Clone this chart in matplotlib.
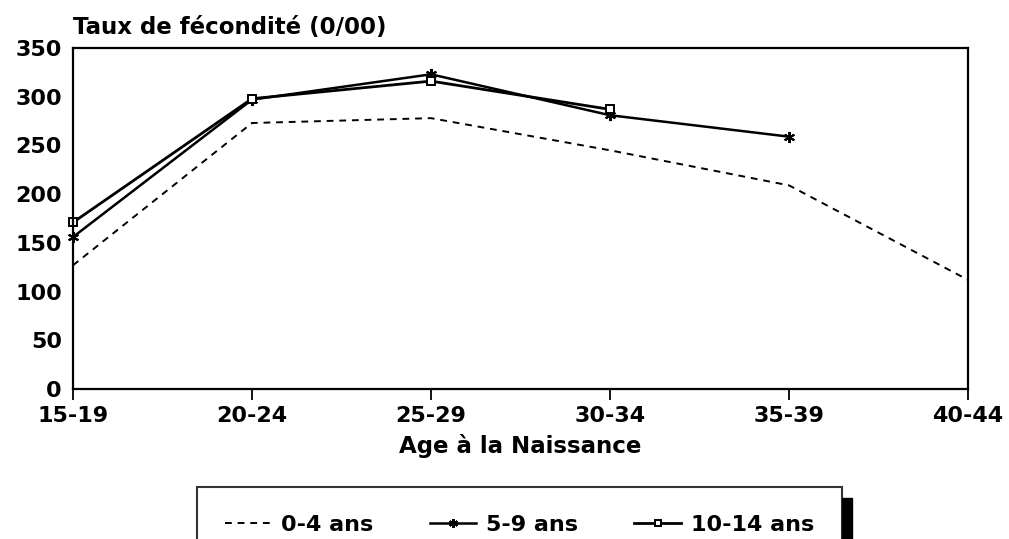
import matplotlib
matplotlib.use("Agg")
import matplotlib.pyplot as plt
from matplotlib.patches import Rectangle

age_groups = ["15-19", "20-24", "25-29", "30-34", "35-39", "40-44"]

# taux de fécondité (pour mille) selon la durée du mariage
taux_0_4 = [127, 273, 278, 245, 209, 112]
taux_5_9 = [156, 297, 323, 281, 259]
taux_10_14 = [171, 298, 316, 287]


def main():
    plt.rcParams['font.family'] = ['DejaVu Sans']
    plt.rcParams['font.weight'] = 'bold'
    plt.rcParams['axes.titleweight'] = 'bold'
    plt.rcParams['axes.labelweight'] = 'bold'

    fig = plt.figure(figsize=(10.09, 5.39), dpi=100)
    ax = fig.add_axes([73 / 1009, 1 - 389 / 539, 895 / 1009, 341 / 539])

    x = list(range(len(age_groups)))
    ax.plot(x[:len(taux_0_4)], taux_0_4, color='black', lw=1.4,
            linestyle=(0, (3.5, 3)), label='0-4 ans')
    ax.plot(x[:len(taux_5_9)], taux_5_9, color='black', lw=1.8,
            marker=(6, 2, 0), markersize=8, markeredgewidth=1.5,
            clip_on=False, label='5-9 ans')
    ax.plot(x[:len(taux_10_14)], taux_10_14, color='black', lw=2.0,
            marker='s', markersize=6, markerfacecolor='white',
            markeredgewidth=1.4, clip_on=False, label='10-14 ans')

    ax.set_xlim(0, len(age_groups) - 1)
    ax.set_ylim(0, 350)
    ax.set_xticks(x)
    ax.set_xticklabels(age_groups)
    ax.set_yticks(range(0, 351, 50))
    ax.tick_params(axis='x', direction='out', length=8, width=1.3,
                   labelsize=16, pad=4)
    ax.tick_params(axis='y', length=0, labelsize=16, pad=8)
    for s in ax.spines.values():
        s.set_linewidth(1.6)

    ax.set_xlabel('Age à la Naissance', fontsize=16.5, labelpad=6)
    ax.set_title('Taux de fécondité (0/00)', loc='left', fontsize=16.5,
                 pad=10)

    leg = fig.legend(loc='upper left', ncol=3, mode='expand',
                     bbox_to_anchor=(197 / 1009, 0, 645 / 1009,
                                     1 - 487 / 539),
                     fontsize=16, frameon=True, fancybox=False,
                     edgecolor='black', borderpad=1.25, handlelength=2.1,
                     handletextpad=0.45, columnspacing=2.3,
                     borderaxespad=0, markerscale=0.8)
    leg.get_frame().set_linewidth(1.5)
    fig.patches.append(Rectangle((842 / 1009, 0), 10 / 1009,
                                 1 - 498 / 539, transform=fig.transFigure,
                                 color='black'))

    fig.savefig('out.png', dpi=100)


if __name__ == "__main__":
    main()
